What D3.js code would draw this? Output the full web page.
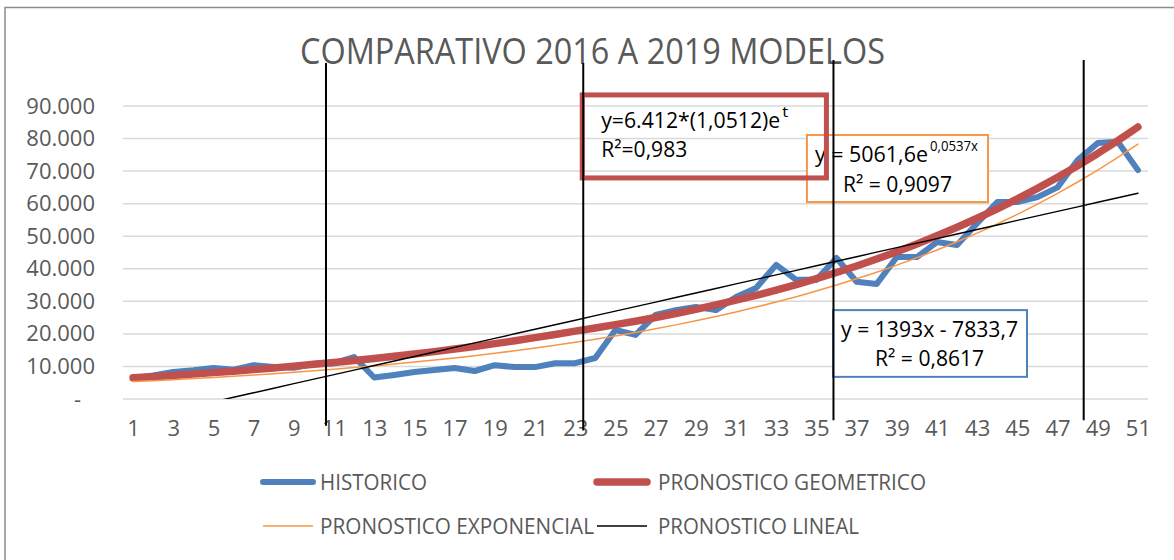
<!DOCTYPE html>
<meta charset="utf-8">
<style>
    body { margin: 0; background: #fff; }
    svg text { font-family: "Open Sans", sans-serif; fill: #595959; }
    .axis path, .axis line { display: none; }
    .axis text { font-size: 22px; fill: #595959; font-family: "Open Sans", sans-serif; }
    .note text { fill: #000; }
</style>

<svg width="1174" height="560"></svg>

<script src="https://cdn.jsdelivr.net/npm/d3@7/dist/d3.min.js"></script>

<script>
    var categories = d3.range(1, 52);

    var historico = [
        6400, 7200, 8300, 8800, 9500, 9000, 10400, 9800, 9600, 10800,
        11000, 12900, 6600, 7400, 8300, 8900, 9500, 8600, 10400, 9800,
        9800, 11000, 11000, 12600, 21200, 19700, 25800, 27300, 28300, 27300,
        31300, 34100, 41200, 36600, 36600, 43300, 36000, 35300, 43600, 43600,
        48200, 47300, 54000, 60500, 60500, 62000, 65000, 73400, 78600, 79000,
        70300
    ];
    var geometrico = [
        6500, 6850, 7250, 7650, 8100, 8550, 9050, 9550, 10100, 10650,
        11200, 11800, 12450, 13100, 13800, 14550, 15350, 16150, 17000, 17900,
        18850, 19800, 20850, 21800, 22850, 23900, 25050, 26250, 27550, 28900,
        30350, 31850, 33450, 35150, 36950, 38850, 40870, 43010, 45260, 47640,
        50130, 52760, 55520, 58430, 61500, 64700, 68100, 71680, 75430, 79390,
        83550
    ];
    var exponencial = [
        5340, 5640, 5950, 6270, 6620, 6990, 7370, 7780, 8210, 8660,
        9140, 9640, 10170, 10740, 11330, 11950, 12610, 13310, 14040, 14820,
        15630, 16500, 17410, 18370, 19380, 20450, 21580, 22770, 24030, 25350,
        26750, 28230, 29780, 31430, 33160, 34990, 36920, 38960, 41110, 43370,
        45770, 48290, 50960, 53770, 56730, 59860, 63170, 66650, 70330, 74210,
        78300
    ];
    var lineal = [
        -6441, -5048, -3655, -2262, -869, 524, 1917, 3310, 4703, 6096,
        7489, 8882, 10275, 11668, 13061, 14454, 15847, 17240, 18633, 20026,
        21419, 22812, 24205, 25598, 26991, 28384, 29777, 31170, 32563, 33956,
        35349, 36742, 38135, 39528, 40921, 42314, 43707, 45100, 46493, 47886,
        49279, 50672, 52065, 53458, 54851, 56244, 57637, 59030, 60423, 61816,
        63209
    ];
    var yTicks = [0, 10000, 20000, 30000, 40000, 50000, 60000, 70000, 80000, 90000];
    var xTicks = categories.filter(function (d) { return d % 2 === 1; });

    // vertical separators, in category units
    var cortes = [
        { at: 10.6, top: 103200, bottom: -8200 },
        { at: 23.4, top: 103200, bottom: -9700 },
        { at: 35.85, top: 104100, bottom: -6500 },
        { at: 48.3, top: 104100, bottom: -6500 }
    ];

    var series = [
        { name: "HISTORICO", values: historico, color: "#4f81bd", width: 6 },
        { name: "PRONOSTICO GEOMETRICO", values: geometrico, color: "#c0504d", width: 7.5 },
        { name: "PRONOSTICO EXPONENCIAL", values: exponencial, color: "#f79646", width: 1.5 },
        { name: "PRONOSTICO LINEAL", values: lineal, color: "#000000", width: 1.4 }
    ];

    var svg = d3.select("svg"),
        plotLeft = 123, plotRight = 1148, plotTop = 106, plotBottom = 399;

    var x = d3.scaleLinear().domain([0.5, 51.5]).range([plotLeft, plotRight]),
        y = d3.scaleLinear().domain([0, 90000]).range([plotBottom, plotTop]);

    // chart border
    svg.append("rect")
        .attr("x", 5).attr("y", 7.5)
        .attr("width", 1200).attr("height", 600)
        .attr("fill", "none").attr("stroke", "#8c8c8c").attr("stroke-width", 1.5);

    svg.append("text")
        .attr("x", 300).attr("y", 64)
        .attr("textLength", 585).attr("lengthAdjust", "spacingAndGlyphs")
        .style("font-size", "36px")
        .text("COMPARATIVO 2016 A 2019 MODELOS");

    // gridlines
    svg.append("g").selectAll("line")
        .data(yTicks)
        .enter()
        .append("line")
        .attr("x1", plotLeft).attr("x2", plotRight)
        .attr("y1", function (d) { return y(d); })
        .attr("y2", function (d) { return y(d); })
        .attr("stroke", "#d9d9d9").attr("stroke-width", 1.5);

    svg.append("g")
        .attr("class", "axis")
        .attr("transform", "translate(" + [plotLeft, 0] + ")")
        .call(d3.axisLeft(y).tickValues(yTicks).tickSize(0).tickPadding(28)
            .tickFormat(function (d) {
                return d === 0 ? "-" : d3.format(",")(d).replace(/,/g, ".");
            }))
        .selectAll("text")
        .attr("dx", function (d) { return d === 0 ? -14 : 0; });

    svg.append("g")
        .attr("class", "axis")
        .attr("transform", "translate(" + [0, plotBottom] + ")")
        .call(d3.axisBottom(x).tickValues(xTicks).tickSize(0).tickPadding(21)
            .tickFormat(d3.format("d")));

    svg.append("clipPath").attr("id", "plot")
        .append("rect")
        .attr("x", 0).attr("y", 0)
        .attr("width", 1174).attr("height", y(0));

    var line = d3.line()
        .x(function (d, i) { return x(categories[i]); })
        .y(function (d) { return y(d); });

    svg.append("g")
        .attr("clip-path", "url(#plot)")
        .selectAll("path")
        .data(series)
        .enter()
        .append("path")
        .attr("d", function (d) { return line(d.values); })
        .attr("fill", "none")
        .attr("stroke", function (d) { return d.color; })
        .attr("stroke-width", function (d) { return d.width; })
        .attr("stroke-linejoin", "round")
        .attr("stroke-linecap", "round");

    // trend equation boxes (placed in category / value units)
    var notas = [
        { x0: 34.53, x1: 43.54, y0: 81100, y1: 60500, color: "#f79646", sw: 2, fill: "#fff",
          lines: [
              { t: "y = 5061,6e", sup: "0,0537x", dx: 8, dy: 27, w: 113, supW: 48 },
              { t: "R\u00b2 = 0,9097", dx: 36, dy: 57, w: 109 }
          ] },
        { x0: 35.83, x1: 45.48, y0: 27300, y1: 6800, color: "#4f81bd", sw: 2, fill: "#fff",
          lines: [
              { t: "y = 1393x - 7833,7", dx: 8, dy: 27, w: 177 },
              { t: "R\u00b2 = 0,8617", dx: 42, dy: 56, w: 109 }
          ] },
        { x0: 23.35, x1: 35.5, y0: 93400, y1: 67900, color: "#c0504d", sw: 5, fill: "none",
          lines: [
              { t: "y=6.412*(1,0512)e", sup: "t", dx: 19, dy: 33, w: 179, supW: 6 },
              { t: "R\u00b2=0,983", dx: 19, dy: 62, w: 86 }
          ] }
    ];

    var nota = svg.append("g").attr("class", "note").selectAll("g")
        .data(notas)
        .enter()
        .append("g")
        .attr("transform", function (d) { return "translate(" + [x(d.x0), y(d.y0)] + ")"; });

    nota.append("rect")
        .attr("width", function (d) { return x(d.x1) - x(d.x0); })
        .attr("height", function (d) { return y(d.y1) - y(d.y0); })
        .attr("fill", function (d) { return d.fill; })
        .attr("stroke", function (d) { return d.color; })
        .attr("stroke-width", function (d) { return d.sw; });

    nota.each(function (d) {
        var g = d3.select(this);
        d.lines.forEach(function (l) {
            g.append("text")
                .attr("x", l.dx).attr("y", l.dy)
                .attr("textLength", l.w).attr("lengthAdjust", "spacingAndGlyphs")
                .style("font-size", "22px")
                .text(l.t);
            if (l.sup) {
                g.append("text")
                    .attr("x", l.dx + l.w + 2).attr("y", l.dy - 11)
                    .attr("textLength", l.supW).attr("lengthAdjust", "spacingAndGlyphs")
                    .style("font-size", "14px")
                    .text(l.sup);
            }
        });
    });

    // vertical separators drawn over the boxes
    svg.append("g").selectAll("line")
        .data(cortes)
        .enter()
        .append("line")
        .attr("x1", function (d) { return x(d.at); })
        .attr("x2", function (d) { return x(d.at); })
        .attr("y1", function (d) { return y(d.top); })
        .attr("y2", function (d) { return y(d.bottom); })
        .attr("stroke", "#000").attr("stroke-width", 2);

    // legend
    var legend = svg.append("g").selectAll("g")
        .data(series)
        .enter()
        .append("g")
        .attr("transform", function (d, i) {
            return "translate(" + [i % 2 === 0 ? 263 : 597, i < 2 ? 482 : 526] + ")";
        });

    legend.append("line")
        .attr("x1", 0).attr("x2", 50)
        .attr("stroke", function (d) { return d.color; })
        .attr("stroke-width", function (d) { return d.width; })
        .attr("stroke-linecap", function (d) { return d.width > 3 ? "round" : "butt"; });

    var legendW = [107, 268, 274, 201];
    legend.append("text")
        .attr("x", function (d, i) { return i % 2 === 0 ? 57 : 61; })
        .attr("y", 8)
        .attr("textLength", function (d, i) { return legendW[i]; })
        .attr("lengthAdjust", "spacingAndGlyphs")
        .style("font-size", "21px")
        .text(function (d) { return d.name; });
</script>
